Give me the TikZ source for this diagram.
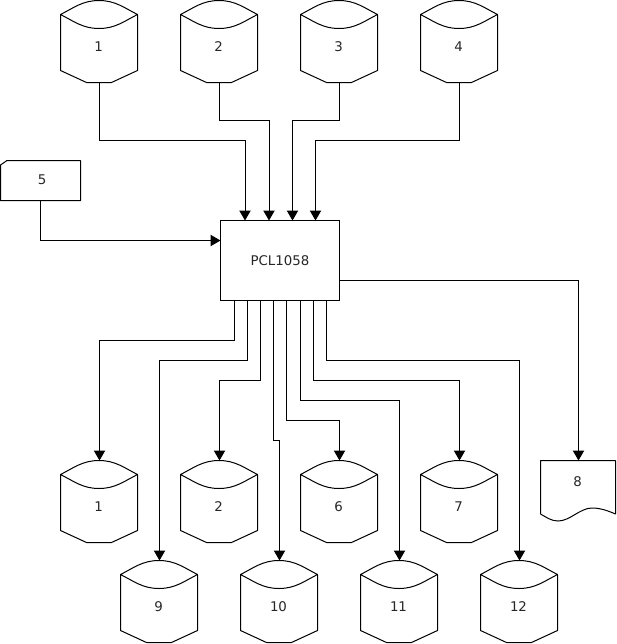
\documentclass[tikz,border=0pt]{standalone}
\usepackage{fontspec}
\setmainfont{DejaVu Sans}
\usetikzlibrary{arrows.meta,calc}
\tikzset{
  shapeline/.style={draw=black,line width=0.75pt,line join=round},
  anchorbox/.style={minimum width=58.5pt,minimum height=61.5pt,inner sep=0pt,outer sep=0pt},
  lab/.style={inner sep=0pt,font=\fontsize{10}{12}\selectfont,text=black!85},
  conn/.style={draw=black,line width=0.75pt,line join=miter,-{Triangle[length=7.5pt,width=8.5pt]}},
  procbox/.style={draw=black,line width=0.75pt,minimum width=89.25pt,minimum height=60pt,inner sep=0pt,outer sep=0pt},
}
\newcommand{\drum}[4]{%
  \node[anchorbox] (#1) at (#2+39,#3+41) {};
  \node[lab] (#1t) at (#2+38,#3+46.5) {#4};
  \draw[shapeline,shift={(#2,#3)}]
    (0,14) .. controls (13,7.5) and (22,0) .. (38.5,0)
    .. controls (55,0) and (64,7.5) .. (77,14)
    .. controls (64,20.5) and (55,28) .. (38.5,28)
    .. controls (22,28) and (13,20.5) .. (0,14)
    -- (0,70) -- (26,82) -- (51,82) -- (77,70) -- (77,14);
}
\begin{document}
\begin{tikzpicture}[x=0.75pt,y=-0.75pt]
\useasboundingbox (0,0) rectangle (617,644);
\fill[white] (0,0) rectangle (617,644);
\drum{a1}{60.5}{0.5}{1}
\drum{a2}{180.5}{0.5}{2}
\drum{a3}{300.5}{0.5}{3}
\drum{a4}{420.5}{0.5}{4}
\drum{b1}{60.5}{460.5}{1}
\drum{b2}{180.5}{460.5}{2}
\drum{b6}{300.5}{460.5}{6}
\drum{b7}{420.5}{460.5}{7}
\drum{b9}{120.5}{560.5}{9}
\drum{b10}{240.5}{560.5}{10}
\drum{b11}{360.5}{560.5}{11}
\drum{b12}{480.5}{560.5}{12}
% card 5
\node[inner sep=0pt,outer sep=0pt,minimum width=60pt,minimum height=30pt] (card) at (40.5,180.5) {};
\node[lab] (cardt) at (42,180) {5};
\draw[shapeline] (0.5,165) -- (7,160.5) -- (80.5,160.5) -- (80.5,200.5) -- (0.5,200.5) -- cycle;
% document 8
\node[inner sep=0pt,outer sep=0pt,minimum width=57pt,minimum height=45pt] (doc) at (578.5,490.5) {};
\node[lab] (doct) at (577.7,481.5) {8};
\draw[shapeline] (540.5,514) -- (540.5,460.5) -- (615.5,460.5) -- (615.5,514)
  .. controls (606,510) and (600,508) .. (592,508)
  .. controls (580,508) and (570,521) .. (558,521)
  .. controls (551,521) and (546,517) .. (540.5,514);
% main box
\node[procbox,lab,text=black!85] (pcl) at (280,260.5) {PCL1058};
% ports
\coordinate (in1) at (245,220.5);
\coordinate (in2) at (269,220.5);
\coordinate (in3) at (292.5,220.5);
\coordinate (in4) at (315.5,220.5);
\coordinate (inw) at (220.5,240.5);
\coordinate (oute) at (339.5,280.5);
\foreach \n/\x in {o1/234.5,o2/247.5,o3/260.5,o4/273.5,o5/286.5,o6/300.5,o7/313.5,o8/326.5}
  \coordinate (\n) at (\x,300.5);
% inputs
\draw[conn] (a1.south) -- (a1.south |- 0,140.5) -| (in1);
\draw[conn] (a2.south) -- (a2.south |- 0,120.5) -| (in2);
\draw[conn] (a3.south) -- (a3.south |- 0,120.5) -| (in3);
\draw[conn] (a4.south) -- (a4.south |- 0,140.5) -| (in4);
\draw[conn] (card.south) |- (inw);
% outputs
\draw[conn] (o1) -- (o1 |- 0,340.5) -| (b1.north);
\draw[conn] (o2) -- (o2 |- 0,360.5) -| (b9.north);
\draw[conn] (o3) -- (o3 |- 0,380.5) -| (b2.north);
\draw[conn] (o4) -- (o4 |- 0,440.5) -| (b10.north);
\draw[conn] (o5) -- (o5 |- 0,420.5) -| (b6.north);
\draw[conn] (o6) -- (o6 |- 0,400.5) -| (b11.north);
\draw[conn] (o7) -- (o7 |- 0,380.5) -| (b7.north);
\draw[conn] (o8) -- (o8 |- 0,360.5) -| (b12.north);
\draw[conn] (oute) -| (doc.north);
\end{tikzpicture}
\end{document}
